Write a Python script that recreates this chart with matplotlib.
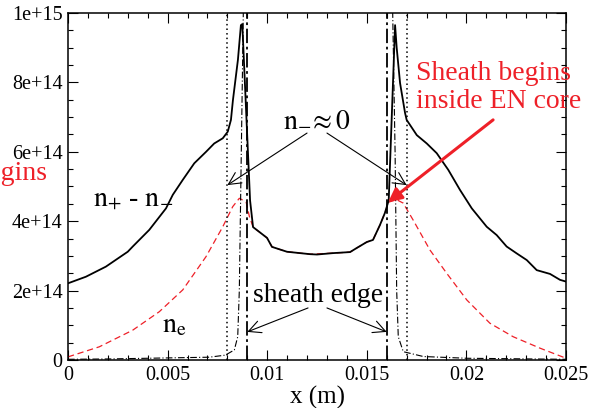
import matplotlib
matplotlib.use('Agg')
import matplotlib.pyplot as plt
import numpy as np

plt.rcParams['font.family'] = ['Liberation Serif', 'DejaVu Serif']
plt.rcParams['mathtext.fontset'] = 'stix'

# densities in units of 1e14 m^-3, x in m
x_ion = [0, 0.0009, 0.0019, 0.0030, 0.00325, 0.00408, 0.00492, 0.00526, 0.00576,
         0.00634, 0.00693, 0.00734, 0.00777, 0.00802, 0.00818, 0.00828, 0.00853,
         0.00868, 0.00875, 0.00914, 0.00929, 0.00999, 0.01024, 0.01099, 0.01165,
         0.01215, 0.0125, 0.0133, 0.01416, 0.0145, 0.0150, 0.01531, 0.01566,
         0.01591, 0.0161, 0.01642, 0.0165, 0.01667, 0.01692, 0.0170, 0.01751,
         0.01801, 0.01851, 0.01909, 0.01968, 0.02027, 0.02102, 0.02152, 0.02202,
         0.02253, 0.02303, 0.02353, 0.0242, 0.0247, 0.025]
n_diff = [2.21, 2.40, 2.69, 3.12, 3.27, 3.75, 4.37, 4.76, 5.19,
          5.67, 6.00, 6.24, 6.39, 6.58, 6.92, 7.49, 8.65,
          9.65, 9.68, 4.6, 3.83, 3.52, 3.26, 3.12, 3.08,
          3.05, 3.04, 3.08, 3.11, 3.23, 3.40, 3.46, 3.89,
          4.24, 4.6, 9.65, 9.0, 7.98, 7.12, 6.92, 6.48,
          6.24, 5.96, 5.48, 4.90, 4.37, 3.84, 3.60, 3.27,
          3.07, 2.88, 2.59, 2.48, 2.31, 2.26]

x_e = [0, 0.00157, 0.00325, 0.00458, 0.00576, 0.00693, 0.00777, 0.00827, 0.0086,
       0.00894, 0.0091, 0.00929, 0.00999, 0.01024, 0.01099, 0.01165, 0.01215,
       0.0133, 0.01416, 0.0150, 0.01531, 0.01566, 0.01591, 0.0161, 0.0165,
       0.01683, 0.01733, 0.01817, 0.01901, 0.02002, 0.02118, 0.02235, 0.0237,
       0.02487, 0.025]
n_e = [0.09, 0.38, 0.86, 1.39, 2.02, 2.98, 3.84, 4.42, 4.66,
       4.56, 4.15, 3.83, 3.52, 3.26, 3.12, 3.08, 3.05,
       3.08, 3.11, 3.40, 3.46, 3.89, 4.24, 4.55, 4.62,
       4.52, 4.03, 3.17, 2.50, 1.73, 1.06, 0.67, 0.34,
       0.08, 0.06]

x_neg = [0, 0.002, 0.004, 0.006, 0.00708, 0.0079, 0.00835, 0.00852, 0.0086,
         0.0087, 0.0088, 0.009, 0.0125, 0.0161, 0.0163, 0.01642, 0.0165,
         0.01658, 0.01683, 0.01784, 0.02002, 0.025]
n_neg = [0.02, 0.03, 0.05, 0.07, 0.08, 0.14, 0.29, 0.67, 2.0,
         6.0, 10.0, 20.0, 40.0, 20.0, 10.0, 6.0, 2.0,
         0.67, 0.24, 0.10, 0.05, 0.02]

x_dotted = [0.008, 0.017]       # n- ~ 0 boundary
x_sheath = [0.009, 0.016]       # sheath edges

xticks = [0, 0.005, 0.01, 0.015, 0.02, 0.025]
xtick_labels = ['0', '0.005', '0.01', '0.015', '0.02', '0.025']
yticks = [0, 2e14, 4e14, 6e14, 8e14, 1e15]
ytick_labels = ['0', '2e+14', '4e+14', '6e+14', '8e+14', '1e+15']

red = '#ee2028'
scale = 1e14

fig = plt.figure(figsize=(5.93, 4.08), dpi=100)
ax = fig.add_axes([68/593, 48/408, 498/593, 347/408])

ax.plot(x_e, np.array(n_e) * scale, color=red, linestyle=(0, (5, 3)), linewidth=0.9)
ax.plot(x_ion, np.array(n_diff) * scale, color='black', linewidth=1.3)
ax.plot(x_neg, np.array(n_neg) * scale, color='black', linestyle=(0, (6, 2, 1, 2)), linewidth=0.8)
for xv in x_dotted:
    ax.axvline(xv, color='black', linestyle=(0, (1, 2)), linewidth=1.1)
for xv in x_sheath:
    ax.axvline(xv, color='black', linestyle=(0, (8, 2, 1.5, 2)), linewidth=1.3)

ax.set_xlim(0, 0.025)
ax.set_ylim(0, 1e15)
ax.set_xticks(xticks)
ax.set_xticklabels(xtick_labels)
ax.set_yticks(yticks)
ax.set_yticklabels(ytick_labels)
ax.set_xticks(np.arange(0, 0.0251, 0.001), minor=True)
ax.set_yticks(np.arange(0, 1.01e15, 5e13), minor=True)
ax.tick_params(which='both', direction='in', top=True, right=True, labelsize=14.5, width=0.8)
ax.tick_params(which='major', length=7, pad=4)
ax.tick_params(which='minor', length=3.5)
for s in ax.spines.values():
    s.set_linewidth(1.1)
ax.set_xlabel('x (m)', fontsize=18, labelpad=1)

# annotations
ax.text(0.00126, 4.47e14, r'$\mathrm{n}_{+}$ - $\mathrm{n}_{-}$', fontsize=20, ha='left', va='baseline')
ax.text(0.0047, 0.8e14, r'$\mathrm{n}_{\mathrm{e}}$', fontsize=20, ha='left', va='baseline')
ax.text(0.0125, 6.75e14, r'$\mathrm{n}_{-}\!\approx 0$', fontsize=20, ha='center', va='baseline')
for xt, xs in zip(x_dotted, [0.0120, 0.0130]):
    ax.annotate('', xy=(xt, 5.04e14), xytext=(xs, 6.54e14),
                arrowprops=dict(arrowstyle='->', color='black', lw=0.8,
                                mutation_scale=22, shrinkA=0, shrinkB=0))
ax.text(0.01255, 1.67e14, 'sheath edge', fontsize=20, ha='center', va='baseline')
for xt, xs in zip(x_sheath, [0.01205, 0.0130]):
    ax.annotate('', xy=(xt, 0.81e14), xytext=(xs, 1.5e14),
                arrowprops=dict(arrowstyle='->', color='black', lw=0.8,
                                mutation_scale=22, shrinkA=0, shrinkB=0))
ax.text(0.01745, 7.26e14, 'Sheath begins\ninside EN core', fontsize=20, color=red,
        ha='left', va='baseline', linespacing=1.15)
ax.annotate('', xy=(0.01607, 4.55e14), xytext=(0.02134, 6.92e14),
            arrowprops=dict(arrowstyle='-|>', color=red, lw=2.2,
                            mutation_scale=20, shrinkA=0, shrinkB=0))
fig.text(47/593, (408-180)/408, 'Sheath begins', fontsize=20, color=red,
         ha='right', va='baseline')

fig.savefig('out.png', dpi=100)
